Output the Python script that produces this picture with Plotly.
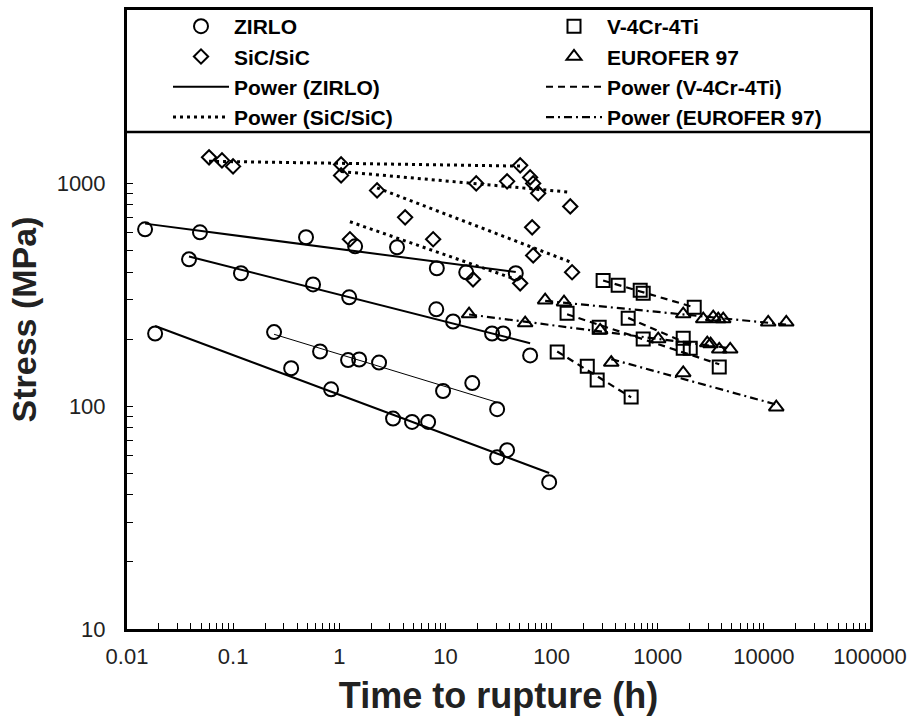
import numpy as np
import plotly.graph_objects as go

# ---------------- data ----------------
# ZIRLO, four test series (each with its own power-law trend)
zirlo_g1_x = [0.0148, 0.0487, 0.486, 1.41, 3.5, 8.3, 15.7, 46]
zirlo_g1_y = [622, 603, 573, 522, 517, 416, 399, 395]
zirlo_g2_x = [0.0384, 0.1185, 0.566, 1.24, 8.2, 11.8, 27.5, 35, 62.8]
zirlo_g2_y = [456, 395, 352, 308, 272, 240, 212, 212, 169]
zirlo_g3_x = [0.243, 0.659, 1.21, 1.54, 2.37, 9.5, 17.9, 30.7]
zirlo_g3_y = [215, 176, 161, 162, 157, 117, 127, 97]
zirlo_g4_x = [0.0184, 0.352, 0.837, 3.21, 4.85, 6.87, 30.7, 38.1, 94.9]
zirlo_g4_y = [212, 148, 119, 88, 85, 85, 59, 63.5, 45.6]

# SiC/SiC
sic_g1_x = [0.0593, 0.0785, 0.0998, 1.04, 50.6]
sic_g1_y = [1309, 1268, 1192, 1217, 1205]
sic_g2_x = [1.04, 19.5, 38.1, 62.8, 67.1, 74.8, 150]
sic_g2_y = [1086, 1000, 1021, 1064, 1000, 902, 788]
sic_g3_x = [2.27, 65.6, 67.1, 156]
sic_g3_y = [930, 635, 475, 399]
sic_g4_x = [1.26, 4.17, 7.66, 18.2, 50.6]
sic_g4_y = [561, 704, 561, 371, 356]

# V-4Cr-4Ti
v_g1_x = [306, 424, 684, 730, 2208]
v_g1_y = [367, 349, 331, 321, 278]
v_g2_x = [140, 281, 730, 1739, 3800]
v_g2_y = [261, 226, 200, 182, 150]
v_g3_x = [527, 1739, 2025]
v_g3_y = [248, 202, 182]
v_g4_x = [113, 217, 269, 562]
v_g4_y = [175, 151, 131, 110]

# EUROFER 97
eu_g1_x = [87, 131, 1739, 2685, 3334, 3718, 4142, 10990, 16260]
eu_g1_y = [299, 293, 259, 246, 251, 246, 246, 238, 238]
eu_g2_x = [16.7, 56.4, 287, 1011, 2929, 3150, 3800, 4820]
eu_g2_y = [259, 236, 219, 200, 192, 190, 180, 180]
eu_g3_x = [365, 1739, 13090]
eu_g3_y = [157, 141, 99]

x_tick_vals = [0.01, 0.1, 1, 10, 100, 1000, 10000, 100000]
x_tick_text = ["0.01", "0.1", "1", "10", "100", "1000", "10000", "100000"]
y_tick_vals = [10, 100, 1000]
y_tick_text = ["10", "100", "1000"]


def power_fit(xs, ys):
    lx, ly = np.log10(xs), np.log10(ys)
    b, a = np.polyfit(lx, ly, 1)
    xe = np.array([min(xs), max(xs)])
    return list(xe), list(10 ** (a + b * np.log10(xe)))


def fit_lines(groups):
    X, Y = [], []
    for gx, gy in groups:
        fx, fy = power_fit(gx, gy)
        X += fx + [None]
        Y += fy + [None]
    return X, Y


def cat(groups, i):
    out = []
    for g in groups:
        out += g[i]
    return out


def minor_vals(decades):
    return [m * 10 ** d for d in decades for m in range(2, 10)]


zirlo_groups = [(zirlo_g1_x, zirlo_g1_y), (zirlo_g2_x, zirlo_g2_y),
                (zirlo_g3_x, zirlo_g3_y), (zirlo_g4_x, zirlo_g4_y)]
sic_groups = [(sic_g1_x, sic_g1_y), (sic_g2_x, sic_g2_y),
              (sic_g3_x, sic_g3_y), (sic_g4_x, sic_g4_y)]
v_groups = [(v_g1_x, v_g1_y), (v_g2_x, v_g2_y), (v_g3_x, v_g3_y), (v_g4_x, v_g4_y)]
eu_groups = [(eu_g1_x, eu_g1_y), (eu_g2_x, eu_g2_y), (eu_g3_x, eu_g3_y)]

FONT = "Liberation Sans, Arial, sans-serif"
BLACK = "#000000"

fig = go.Figure()

# ---- trend lines ----
zx, zy = fit_lines([zirlo_groups[0], zirlo_groups[1], zirlo_groups[3]])
fig.add_trace(go.Scatter(x=zx, y=zy, mode="lines", name="Power (ZIRLO)",
                         line=dict(color=BLACK, width=2), legend="legend",
                         legendrank=3, legendgroup="pz"))
zx2, zy2 = fit_lines([zirlo_groups[2]])
fig.add_trace(go.Scatter(x=zx2, y=zy2, mode="lines", name="Power (ZIRLO)",
                         line=dict(color=BLACK, width=1), showlegend=False,
                         legendgroup="pz"))
sx, sy = fit_lines(sic_groups)
fig.add_trace(go.Scatter(x=sx, y=sy, mode="lines", name="Power (SiC/SiC)",
                         line=dict(color=BLACK, width=3, dash="3px,4px"),
                         legend="legend", legendrank=4))
vx, vy = fit_lines(v_groups)
fig.add_trace(go.Scatter(x=vx, y=vy, mode="lines", name="Power (V-4Cr-4Ti)",
                         line=dict(color=BLACK, width=2.2, dash="7px,5px"),
                         legend="legend2", legendrank=3))
ex, ey = fit_lines(eu_groups)
fig.add_trace(go.Scatter(x=ex, y=ey, mode="lines", name="Power (EUROFER 97)",
                         line=dict(color=BLACK, width=2.2, dash="8px,4px,2px,4px"),
                         legend="legend2", legendrank=4))

# ---- markers ----
mk = dict(color=BLACK, line=dict(color=BLACK, width=2))
fig.add_trace(go.Scatter(x=cat(zirlo_groups, 0), y=cat(zirlo_groups, 1), mode="markers",
                         name="ZIRLO", marker=dict(mk, symbol="circle-open", size=14),
                         legend="legend", legendrank=1))
fig.add_trace(go.Scatter(x=cat(sic_groups, 0), y=cat(sic_groups, 1), mode="markers",
                         name="SiC/SiC", marker=dict(mk, symbol="diamond-open", size=11),
                         legend="legend", legendrank=2))
fig.add_trace(go.Scatter(x=cat(v_groups, 0), y=cat(v_groups, 1), mode="markers",
                         name="V-4Cr-4Ti", marker=dict(mk, symbol="square-open", size=13),
                         legend="legend2", legendrank=1))
fig.add_trace(go.Scatter(x=cat(eu_groups, 0), y=cat(eu_groups, 1), mode="markers",
                         name="EUROFER 97", marker=dict(mk, symbol="triangle-up-open", size=13),
                         legend="legend2", legendrank=2))

leg_common = dict(font=dict(family=FONT, size=21, color=BLACK, weight="bold"),
                  bgcolor="rgba(0,0,0,0)", borderwidth=0, yanchor="top", y=1.0 + 4 / 619,
                  xanchor="left", traceorder="normal", tracegroupgap=0,
                  orientation="v", itemwidth=56)

fig.update_layout(
    width=910, height=716,
    margin=dict(l=127, r=40, t=10, b=87, autoexpand=False),
    paper_bgcolor="white", plot_bgcolor="white",
    font=dict(family=FONT, color=BLACK),
    legend=dict(leg_common, x=(168 - 127) / 743),
    legend2=dict(leg_common, x=(541 - 127) / 743),
    xaxis=dict(type="log", range=[-2, 5], tickvals=x_tick_vals, ticktext=x_tick_text,
               ticks="inside", ticklen=6, tickwidth=1.2, tickcolor=BLACK,
               ticklabelstandoff=6,
               minor=dict(tickvals=minor_vals(range(-2, 5)), ticks="inside", ticklen=6,
                          tickwidth=1.2, tickcolor=BLACK, showgrid=False),
               showline=True, linewidth=3, linecolor=BLACK, mirror=True,
               showgrid=False, zeroline=False,
               tickfont=dict(family=FONT, size=22, color="#222"),
               title=dict(text="Time to rupture (h)", standoff=18,
                          font=dict(family=FONT, size=36, color="#222", weight="bold"))),
    yaxis=dict(type="log", range=[1, np.log10(6000)], tickvals=y_tick_vals, ticktext=y_tick_text,
               ticks="inside", ticklen=6, tickwidth=1.2, tickcolor=BLACK,
               ticklabelstandoff=14,
               minor=dict(tickvals=minor_vals(range(1, 3)), ticks="inside", ticklen=6,
                          tickwidth=1.2, tickcolor=BLACK, showgrid=False),
               showline=True, linewidth=3, linecolor=BLACK, mirror=True,
               showgrid=False, zeroline=False,
               tickfont=dict(family=FONT, size=22, color="#222"),
               title=dict(text="Stress (MPa)", standoff=10,
                          font=dict(family=FONT, size=34, color="#222", weight="bold"))),
    shapes=[dict(type="line", xref="paper", yref="paper", x0=0, x1=1,
                 y0=(629 - 132) / 619, y1=(629 - 132) / 619,
                 line=dict(color=BLACK, width=2.5))],
)

fig.write_html("out.html")
